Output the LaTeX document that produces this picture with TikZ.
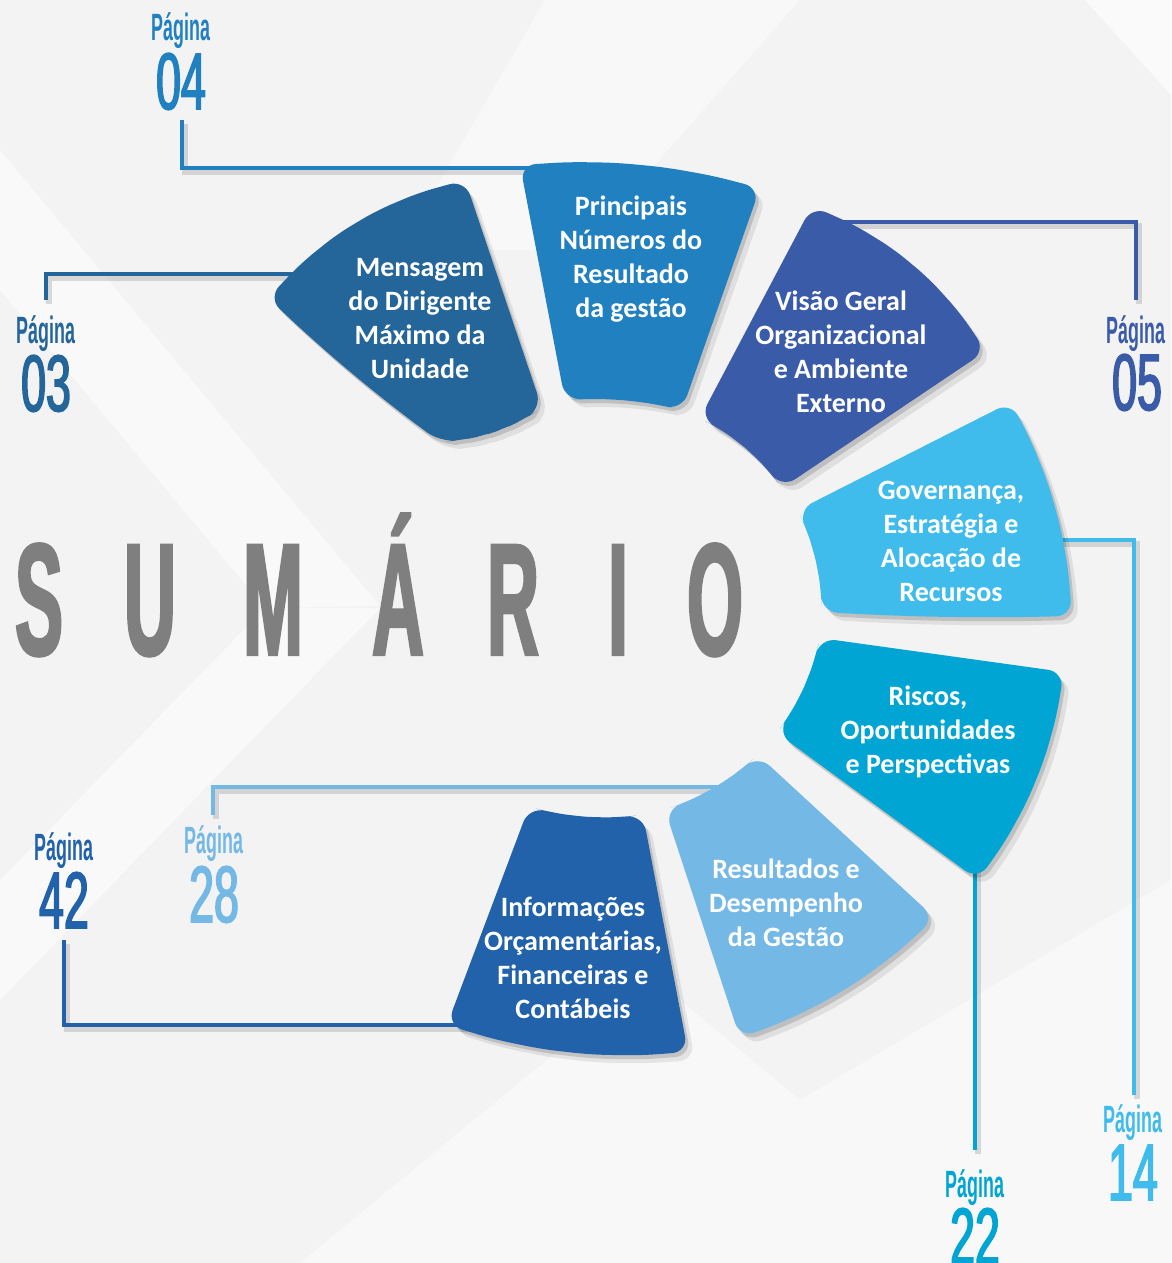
\documentclass[tikz,border=0pt]{standalone}
\usepackage{fontspec}
\setmainfont{Carlito}
\newfontfamily\labfont{Liberation Sans Bold}[FakeStretch=0.47]
\newfontfamily\numfont{Liberation Sans}[FakeStretch=0.56,FakeBold=2]
\newfontfamily\sumfont{Liberation Sans Bold}[FakeStretch=0.45,FakeBold=1.5]
\usetikzlibrary{calc,shadows}
\definecolor{c03}{HTML}{24659A}
\definecolor{c04}{HTML}{2180C0}
\definecolor{c05}{HTML}{3A5BA8}
\definecolor{c14}{HTML}{40BCEC}
\definecolor{c22}{HTML}{00A5D4}
\definecolor{c28}{HTML}{74B8E6}
\definecolor{c42}{HTML}{2262AA}
\definecolor{bgc}{HTML}{F3F3F4}
\definecolor{sumgray}{HTML}{7F7F7F}
\newcommand\bulge[3]{%
 -- ($(#1)!0.2!(#2)!{0.64*(#3)}!90:(#2)$)
 -- ($(#1)!0.4!(#2)!{0.96*(#3)}!90:(#2)$)
 -- ($(#1)!0.6!(#2)!{0.96*(#3)}!90:(#2)$)
 -- ($(#1)!0.8!(#2)!{0.64*(#3)}!90:(#2)$)
 -- (#2)}
\newcommand\bulgec[3]{%
 -- ($(#1)!0.2!(#2)!{0.64*(#3)}!90:(#2)$)
 -- ($(#1)!0.4!(#2)!{0.96*(#3)}!90:(#2)$)
 -- ($(#1)!0.6!(#2)!{0.96*(#3)}!90:(#2)$)
 -- ($(#1)!0.8!(#2)!{0.64*(#3)}!90:(#2)$)
 -- cycle}
\begin{document}
\begin{tikzpicture}[x=1pt,y=-1pt,
  conn/.style={line width=4pt, line cap=butt,
    preaction={draw=black, opacity=0.13, line width=6pt, transform canvas={xshift=3pt,yshift=-4pt}}},
  segshadow/.style={rounded corners=16pt,
    general shadow={shadow xshift=3pt, shadow yshift=-4pt, opacity=0.14, fill=black},
    general shadow={shadow xshift=7pt, shadow yshift=-8pt, opacity=0.08, fill=black}},
  segtext/.style={text=white, font=\fontsize{28}{34}\selectfont\bfseries, align=center, inner sep=0pt},
  lab/.style={font=\labfont\fontsize{38}{38}\selectfont, inner sep=0pt, anchor=base, text depth=0pt},
  num/.style={font=\numfont\fontsize{80}{80}\selectfont, inner sep=0pt, anchor=base, text height=56pt},
  sumletter/.style={font=\sumfont\fontsize{160}{160}\selectfont, text=sumgray, inner sep=0pt, anchor=base}
]
\useasboundingbox (0,0) rectangle (1171,1263);
\fill[bgc] (0,0) rectangle (1171,1263);
% background bands
\fill[white, opacity=0.5] (0,150) -- (380,606) -- (265,608) -- (0,290) -- cycle;
\fill[white, opacity=0.5] (265,608) -- (380,608) -- (0,1000) -- (0,880) -- cycle;
\fill[white, opacity=0.45] (545,0) -- (800,0) -- (580,250) -- (400,250) -- cycle;
\fill[white, opacity=0.6] (1085,0) -- (1171,0) -- (1171,95) -- cycle;
\fill[white, opacity=0.45] (300,1263) -- (650,975) -- (800,1100) -- (1171,880) -- (1171,1263) -- cycle;

% connector end points
\coordinate (k04) at (182,120);  \coordinate (s04) at (530,168);
\coordinate (k03) at (46,300);   \coordinate (s03) at (320,274);
\coordinate (k05) at (1136,300); \coordinate (s05) at (830,222);
\coordinate (k14) at (1134,1095);\coordinate (s14) at (1055,540);
\coordinate (k22) at (975,1150); \coordinate (s22) at (975,860);
\coordinate (k28) at (213,815);  \coordinate (s28) at (730,787);
\coordinate (k42) at (64,940);   \coordinate (s42) at (470,1025);

\draw[conn, c04] (k04) |- (s04);
\draw[conn, c03] (k03) |- (s03);
\draw[conn, c05] (k05) |- (s05);
\draw[conn, c14] (k14) |- (s14);
\draw[conn, c22] (s22) -- (k22);
\draw[conn, c28] (k28) |- (s28);
\draw[conn, c42] (k42) |- (s42);

% segment corners
\coordinate (mL) at (268,298); \coordinate (mT) at (465,180); \coordinate (mR) at (542,408); \coordinate (mB) at (440,442);
\coordinate (pTL) at (520,165); \coordinate (pTR) at (760,188); \coordinate (pBR) at (682,410); \coordinate (pBL) at (565,400);
\coordinate (vT) at (812,206); \coordinate (vR) at (986,351); \coordinate (vB) at (782,488); \coordinate (vL) at (700,418);
\coordinate (gL) at (798,510); \coordinate (gT) at (1011,402); \coordinate (gRB) at (1072,616); \coordinate (gBL) at (822,612);
\coordinate (rTL) at (820,638); \coordinate (rTR) at (1064,672); \coordinate (rB) at (978,880); \coordinate (rL) at (777,733);
\coordinate (eT) at (758,755); \coordinate (eR) at (935,918); \coordinate (eB) at (740,1038); \coordinate (eL) at (665,810);
\coordinate (iTL) at (529,807); \coordinate (iTR) at (643,815); \coordinate (iBR) at (688,1052); \coordinate (iBL) at (447,1025);

% segments
\fill[c42, segshadow] (iTL) \bulge{iTL}{iTR}{-6pt} -- (iBR) \bulge{iBR}{iBL}{14pt} -- cycle;
\fill[c28, segshadow] (eT) -- (eR) \bulge{eR}{eB}{14pt} -- (eL) \bulgec{eL}{eT}{-6pt};
\fill[c22, segshadow] (rTL) -- (rTR) \bulge{rTR}{rB}{16pt} -- (rL) \bulgec{rL}{rTL}{-6pt};
\fill[c14, segshadow] (gL) -- (gT) \bulge{gT}{gRB}{14pt} \bulge{gRB}{gBL}{3pt} \bulgec{gBL}{gL}{-6pt};
\fill[c05, segshadow] (vT) \bulge{vT}{vR}{20pt} -- (vB) \bulge{vB}{vL}{-7pt} -- cycle;
\fill[c04, segshadow] (pTL) \bulge{pTL}{pTR}{12pt} -- (pBR) \bulge{pBR}{pBL}{-5pt} -- cycle;
\fill[c03, segshadow] (mT) -- (mR) \bulge{mR}{mB}{8pt} \bulge{mB}{mL}{4pt} \bulgec{mL}{mT}{20pt};

% segment texts
\node[segtext] (tM) at (420,319) {Mensagem\\do Dirigente\\Máximo da\\Unidade};
\node[segtext] (tP) at (631,259) {Principais\\Números do\\Resultado\\da gestão};
\node[segtext] (tV) at (841,352) {Visão Geral\\Organizacional\\e Ambiente\\Externo};
\node[segtext] (tG) at (951,541) {Governança,\\Estratégia e\\Alocação de\\Recursos};
\node[segtext] (tR) at (928,732) {Riscos,\\Oportunidades\\e Perspectivas};
\node[segtext] (tE) at (786,903) {Resultados e\\Desempenho\\da Gestão};
\node[segtext] (tI) at (573,958) {Informações\\Orçamentárias,\\Financeiras e\\Contábeis};

% page labels
\node[lab, text=c04] (p04) at (181,41) {Página};
\node[num, text=c04] (n04) at (181,109) {04};
\node[lab, text=c03] (p03) at (46,343) {Página};
\node[num, text=c03] (n03) at (46,411) {03};
\node[lab, text=c05] (p05) at (1136,343) {Página};
\node[num, text=c05] (n05) at (1137,410) {05};
\node[lab, text=c14] (p14) at (1133,1132) {Página};
\node[num, text=c14] (n14) at (1133,1200) {14};
\node[lab, text=c22] (p22) at (975,1197) {Página};
\node[num, text=c22] (n22) at (975,1264) {22};
\node[lab, text=c28] (p28) at (214,853) {Página};
\node[num, text=c28] (n28) at (214,922) {28};
\node[lab, text=c42] (p42) at (64,860) {Página};
\node[num, text=c42] (n42) at (64,928) {42};

% title
\node[sumletter] (l1) at (39,655) {S};
\node[sumletter] (l2) at (150,655) {U};
\node[sumletter] (l3) at (273,655) {M};
\node[sumletter] (l4) at (398,655) {Á};
\node[sumletter] (l5) at (513,655) {R};
\node[sumletter] (l6) at (618,655) {I};
\node[sumletter] (l7) at (715,655) {O};
\end{tikzpicture}
\end{document}
